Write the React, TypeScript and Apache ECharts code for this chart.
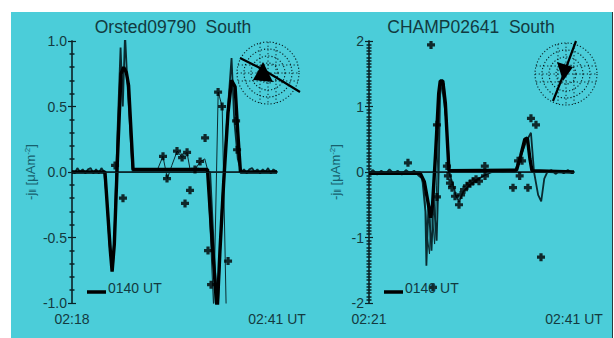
import React, { useEffect, useRef } from "react";
import * as echarts from "echarts";

type P = [number, number];

// ---------- Left panel (Orsted09790 South), minutes after 02:18 ----------
const leftTitle = "Orsted09790  South";
const leftXLabels = ["02:18", "02:41 UT"];
const leftModel: P[] = [
  [0, 0.0], [3.7, 0.0], [4.0, -0.3], [4.3, -0.6], [4.5, -0.76], [4.75, -0.55], [5.1, 0.1],
  [5.5, 0.75], [5.8, 0.8], [6.1, 0.76], [6.35, 0.66], [6.85, 0.02], [15.2, 0.02], [15.6, -0.4],
  [16.1, -0.9], [16.3, -1.05], [16.6, -0.6], [17.0, -0.1], [17.5, 0.45], [17.9, 0.7], [18.3, 0.65],
  [18.6, 0.3], [18.9, 0.0], [23, 0.0],
];
const leftObs1: P[] = [
  [0, 0.01], [0.3, -0.01], [0.6, 0.03], [0.9, 0.0], [1.2, 0.02], [1.5, -0.01], [1.8, 0.02],
  [2.1, 0.03], [2.4, -0.01], [2.7, 0.02], [3.0, -0.01], [3.3, 0.03], [3.6, 0.0], [3.9, -0.2],
  [4.2, -0.55], [4.45, -0.7], [4.6, -0.72], [4.8, -0.4], [5.1, 0.3], [5.45, 0.95], [5.7, 0.5],
  [5.95, 1.05], [6.2, 0.7], [6.5, 0.35], [6.8, 0.0], [15.5, 0.0], [16.0, -0.7], [16.35, -1.05],
  [16.8, -0.3], [17.4, 0.4], [17.9, 0.87], [18.2, 0.4], [18.6, 0.1], [19.0, 0.0], [19.3, 0.02],
  [19.6, -0.01], [19.9, 0.02], [20.2, 0.03], [20.5, 0.0], [20.8, 0.02], [21.1, -0.01], [21.4, 0.02],
  [21.7, 0.0], [22.0, 0.03], [22.3, -0.01], [22.6, 0.02], [23.0, 0.0],
];
const leftObs2: P[] = [
  [8.8, 0.0], [9.6, 0.02], [10.2, 0.12], [10.7, -0.05], [11.2, 0.05], [11.8, 0.16], [12.35, 0.11],
  [12.9, 0.15], [13.3, 0.0], [13.8, 0.02], [14.4, 0.08], [14.9, 0.1], [15.2, 0.02], [15.9, -1.05],
  [16.4, 0.61], [16.85, 0.5], [17.3, -1.05],
];
const leftPoints: P[] = [
  [4.83, 0.05], [5.72, -0.2], [10.21, 0.12], [11.78, 0.16], [12.91, 0.15], [12.35, 0.11],
  [14.37, 0.08], [14.93, 0.26], [10.66, -0.05], [13.24, -0.14], [12.68, -0.24], [13.8, 0.02],
  [16.39, 0.61], [16.84, 0.5], [15.26, -0.6], [15.6, -0.86], [17.51, -0.68], [18.41, 0.39],
  [18.52, 0.17],
];

// ---------- Right panel (CHAMP02641 South), minutes after 02:21 ----------
const rightTitle = "CHAMP02641  South";
const rightXLabels = ["02:21", "02:41 UT"];
const rightModel: P[] = [
  [0, -0.02], [5.0, -0.02], [5.4, -0.15], [5.8, -0.5], [6.0, -0.7], [6.2, -0.5], [6.5, 0.3],
  [6.8, 1.2], [6.95, 1.39], [7.2, 1.39], [7.45, 1.05], [7.8, 0.02], [14.4, 0.03], [14.8, 0.25],
  [15.2, 0.5], [15.45, 0.52], [15.7, 0.2], [15.9, 0.02], [20, 0.0],
];
const rightObs1: P[] = [
  [0, -0.02], [0.4, 0.03], [0.8, -0.04], [1.2, 0.02], [1.6, -0.03], [2.0, 0.04], [2.4, -0.02],
  [2.8, 0.02], [3.2, -0.04], [3.6, 0.03], [4.0, -0.02], [4.4, 0.02], [4.8, -0.05], [5.2, -0.1],
  [5.5, -0.6], [5.6, -1.43], [5.8, -0.5], [6.1, -1.2], [6.3, -0.4], [6.6, -1.05], [6.8, 0.0],
  [6.95, 1.3], [7.3, 1.35], [7.6, 0.6], [7.9, -0.05], [8.2, -0.2], [8.5, -0.37], [8.8, -0.45],
  [9.2, -0.3], [9.8, -0.2], [10.5, -0.12], [11.3, -0.05], [12.0, 0.0], [12.5, 0.02], [13.0, 0.0],
  [13.6, 0.02], [14.2, 0.0], [14.7, 0.2], [15.3, 0.45], [15.8, 0.6], [16.1, 0.0], [16.5, -0.35],
  [16.8, -0.45], [17.1, -0.1], [17.4, 0.0], [17.8, 0.03], [18.2, -0.03], [18.6, 0.02],
  [19.0, -0.02], [19.4, 0.03], [19.8, -0.02], [20, 0.0],
];
const rightObs2: P[] = [
  [5.0, 0.0], [5.4, -0.3], [5.7, -1.0], [5.9, -1.25], [6.1, -0.5], [6.4, -1.1], [6.6, -0.2],
  [6.9, 1.1], [7.1, 1.3], [7.5, 0.8], [7.8, 0.0],
];
const rightPoints: P[] = [
  [3.8, 0.14], [6.05, 1.94], [6.63, 0.72], [6.63, -0.38], [6.24, -1.76], [7.6, 0.09],
  [7.7, -0.06], [7.9, -0.17], [8.1, -0.24], [8.39, -0.37], [8.78, -0.5], [8.98, -0.35],
  [9.27, -0.27], [9.56, -0.21], [9.85, -0.18], [10.15, -0.14], [10.44, -0.11], [10.73, -0.14],
  [11.32, -0.06], [11.3, 0.09], [14.05, -0.24], [14.54, 0.17], [14.93, 0.17], [15.5, -0.24],
  [14.7, -0.06], [15.8, 0.82], [16.29, 0.72], [16.78, -1.3],
];

const legendText = "0140 UT";
const yName = "-j{s|‖} [μAm{p|-2}]";

const BG = "#4bcdd9";
const DARK = "#143a40";
const PLUS = "path://M2.4,0H5.6V2.4H8V5.6H5.6V8H2.4V5.6H0V2.4H2.4Z";
const FONT = "Liberation Sans";

function compass(cx: number, cy: number, line: number[][], tri: number[][]) {
  const els: any[] = [];
  [31, 24, 17, 10].forEach((r) =>
    els.push({
      type: "circle",
      shape: { cx, cy, r },
      style: { fill: "none", stroke: "#0a2226", lineWidth: 1.1, lineDash: [1.2, 2] },
      z: 20,
    })
  );
  [-8, 0, 8].forEach((d) => {
    const h = Math.sqrt(31 * 31 - d * d);
    els.push({
      type: "line",
      shape: { x1: cx - h, y1: cy + d, x2: cx + h, y2: cy + d },
      style: { stroke: "#0a2226", lineWidth: 1, lineDash: [1.2, 2.5] },
      z: 20,
    });
    els.push({
      type: "line",
      shape: { x1: cx + d, y1: cy - h, x2: cx + d, y2: cy + h },
      style: { stroke: "#0a2226", lineWidth: 1, lineDash: [1.2, 2.5] },
      z: 20,
    });
  });
  els.push({
    type: "polyline",
    shape: { points: line },
    style: { stroke: "#000", lineWidth: 2.2, fill: "none" },
    z: 21,
  });
  els.push({ type: "polygon", shape: { points: tri }, style: { fill: "#000" }, z: 21 });
  return els;
}

export default function App() {
  const ref = useRef<HTMLDivElement>(null);
  useEffect(() => {
    document.body.style.margin = "0";
    const chart = echarts.init(ref.current!, undefined, { renderer: "svg" });
    const grids = [
      { left: 72, top: 41, width: 205, height: 262 },
      { left: 369, top: 41, width: 205, height: 262 },
    ];
    const xAxisFor = (gi: number, max: number, labels: string[]) => ({
      type: "value",
      gridIndex: gi,
      min: 0,
      max,
      interval: max,
      axisLine: { show: true, lineStyle: { color: DARK, width: 1.5 } },
      axisTick: { show: false },
      splitLine: { show: false },
      axisLabel: {
        margin: 9,
        color: DARK,
        fontSize: 14,
        fontFamily: FONT,
        formatter: (v: number) => (v === 0 ? labels[0] : labels[1]),
      },
    });
    const xTop = (gi: number, max: number) => ({
      type: "value",
      gridIndex: gi,
      position: "top",
      min: 0,
      max,
      axisLine: { show: true, lineStyle: { color: DARK, width: 1.5 } },
      axisTick: { show: false },
      axisLabel: { show: false },
      splitLine: { show: false },
    });
    const yAxisFor = (gi: number, lim: number, interval: number, minor: number, right: boolean, dec: number) => ({
      type: "value",
      gridIndex: gi,
      position: right ? "right" : "left",
      min: -lim,
      max: lim,
      interval,
      axisLine: { show: true, lineStyle: { color: DARK, width: 1.5 } },
      axisTick: { show: true, inside: true, length: 4, lineStyle: { color: "#0a2226", width: 1.2 } },
      minorTick: { show: true, splitNumber: minor, length: 2.5, lineStyle: { color: "#0a2226", width: 1.5 } },
      splitLine: { show: false },
      axisLabel: {
        show: !right,
        margin: 5,
        color: DARK,
        fontSize: 14,
        fontFamily: FONT,
        formatter: (v: number) => v.toFixed(dec),
      },
    });
    const lineS = (xi: number, yi: number, data: P[], w: number, color: string, z = 3, zero = false) => ({
      type: "line",
      xAxisIndex: xi,
      yAxisIndex: yi,
      data,
      symbol: "none",
      lineStyle: { color, width: w },
      clip: true,
      z,
      markLine: zero
        ? {
            silent: true,
            symbol: "none",
            label: { show: false },
            lineStyle: { color: "#0a2226", width: 0.8, type: "solid" },
            data: [{ yAxis: 0 }],
          }
        : undefined,
    });
    const pts = (xi: number, yi: number, data: P[]) => ({
      type: "scatter",
      xAxisIndex: xi,
      yAxisIndex: yi,
      data,
      symbol: PLUS,
      symbolSize: 8,
      itemStyle: { color: "#000" },
      clip: true,
      z: 5,
    });
    const titleStyle = { fill: "#123a40", fontSize: 17.5, fontFamily: FONT };
    const yNameEl = (x: number) => ({
      type: "text",
      x,
      y: 172,
      rotation: Math.PI / 2,
      style: {
        text: yName,
        fill: "#17606d",
        fontSize: 13,
        fontFamily: FONT,
        align: "center",
        verticalAlign: "middle",
        rich: {
          s: { fontSize: 9, fill: "#17606d", fontFamily: FONT, padding: [6, 0, 0, 0] },
          p: { fontSize: 8, fill: "#17606d", fontFamily: FONT, padding: [0, 0, 6, 0] },
        },
      },
      z: 10,
    });
    const legendEls = (x0: number) => [
      { type: "line", shape: { x1: x0, y1: 292, x2: x0 + 19, y2: 292 }, style: { stroke: "#000", lineWidth: 3.5 }, z: 10 },
      {
        type: "text",
        x: x0 + 21,
        y: 288,
        style: { text: legendText, fill: "#123a40", fontSize: 14, fontFamily: FONT, verticalAlign: "middle" },
        z: 10,
      },
    ];
    chart.setOption({
      animation: false,
      backgroundColor: "#ffffff",
      grid: grids,
      xAxis: [xAxisFor(0, 23, leftXLabels), xAxisFor(1, 20, rightXLabels), xTop(0, 23), xTop(1, 20)],
      yAxis: [
        yAxisFor(0, 1, 0.5, 5, false, 1),
        yAxisFor(0, 1, 0.5, 5, true, 1),
        yAxisFor(1, 2, 1, 20, false, 0),
        yAxisFor(1, 2, 1, 20, true, 0),
      ],
      series: [
        lineS(0, 0, leftObs1, 1.8, "#0a2a2f", 3, true),
        lineS(0, 0, leftObs2, 1, "#0a2a2f", 3),
        lineS(0, 0, leftModel, 3.4, "#000", 4),
        pts(0, 0, leftPoints),
        lineS(1, 2, rightObs1, 1.8, "#0a2a2f", 3, true),
        lineS(1, 2, rightObs2, 1, "#0a2a2f", 3),
        lineS(1, 2, rightModel, 3.4, "#000", 4),
        pts(1, 2, rightPoints),
      ],
      graphic: [
        { type: "rect", shape: { x: 11, y: 12, width: 601, height: 326 }, style: { fill: BG }, z: -10, silent: true },
        { type: "line", shape: { x1: 612.5, y1: 12, x2: 612.5, y2: 338 }, style: { stroke: "#2a3c40", lineWidth: 1 }, z: -9 },
        { type: "text", x: 173, y: 27, style: { ...titleStyle, text: leftTitle, align: "center", verticalAlign: "middle" }, z: 10 },
        { type: "text", x: 471, y: 27, style: { ...titleStyle, text: rightTitle, align: "center", verticalAlign: "middle" }, z: 10 },
        yNameEl(30),
        yNameEl(335),
        ...legendEls(87),
        ...legendEls(384),
        ...compass(268, 73, [[240, 58], [262, 69], [282, 81], [300, 92]], [[263, 62], [253, 80], [273, 82]]),
        ...compass(566, 74, [[553, 101], [563, 76], [576, 41]], [[557, 62], [573, 67], [563, 81]]),
      ],
    });
    return () => chart.dispose();
  }, []);
  return <div ref={ref} style={{ width: 614, height: 338 }} />;
}
